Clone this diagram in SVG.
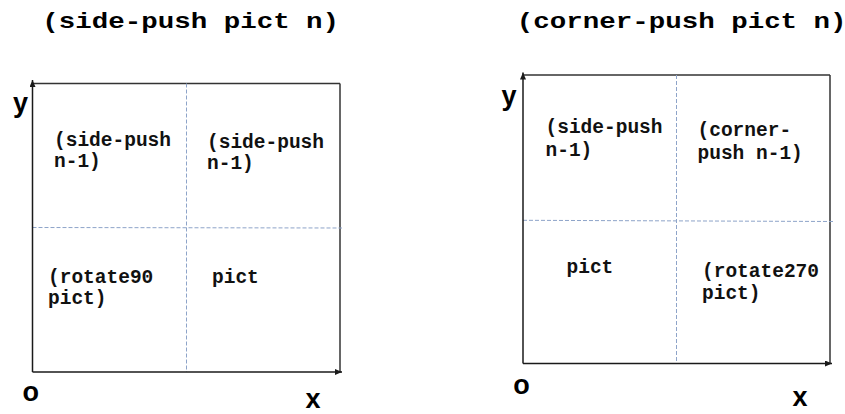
<svg xmlns="http://www.w3.org/2000/svg" width="845" height="414" viewBox="0 0 845 414">
  <style>
    .title { font-family: "Courier New", "Liberation Mono", monospace; font-weight: bold; font-size: 27.5px; fill: #000; }
    .lbl { font-family: "Courier New", "Liberation Mono", monospace; font-weight: bold; font-size: 19.5px; fill: #111; }
    .axis-lbl { font-family: "Liberation Sans", Arial, sans-serif; font-weight: bold; font-size: 27px; fill: #000; }
    .axis { stroke: #1a1a1a; stroke-width: 1.5; fill: none; }
    .border { stroke: #333; stroke-width: 1.5; fill: none; }
    .dash { stroke: #8ea4c9; stroke-width: 1; stroke-dasharray: 4 2; fill: none; }
  </style>
  <defs>
    <marker id="arrow" markerUnits="userSpaceOnUse" markerWidth="8" markerHeight="7" refX="7" refY="3" orient="auto">
      <path d="M0,0 L7,3 L0,6 z" fill="#1a1a1a"/>
    </marker>
  </defs>
  <rect width="845" height="414" fill="#fff"/>

  <!-- titles -->
  <g id="title-left">
    <text class="title" text-anchor="middle" transform="translate(190.7,27.5) scale(1,0.82)">(side-push pict n)</text>
  </g>
  <g id="title-right">
    <text class="title" text-anchor="middle" transform="translate(681.7,27.5) scale(1,0.82)">(corner-push pict n)</text>
  </g>

  <!-- connectors / lines -->
  <g id="connectors">
    <!-- left diagram -->
    <line class="border" x1="32.5" y1="83.5" x2="340" y2="83.5"/>
    <line class="border" x1="340" y1="83.5" x2="340" y2="372"/>
    <line class="dash" x1="186.5" y1="83.5" x2="186.5" y2="372"/>
    <line class="dash" x1="32.5" y1="227.5" x2="342" y2="228"/>
    <line class="axis" x1="32.5" y1="372" x2="32.5" y2="80" marker-end="url(#arrow)"/>
    <line class="axis" x1="32.5" y1="372" x2="342" y2="372" marker-end="url(#arrow)"/>
    <!-- right diagram -->
    <line class="border" x1="523" y1="75" x2="830" y2="75"/>
    <line class="border" x1="830" y1="75" x2="830" y2="363.5"/>
    <line class="dash" x1="676.5" y1="75" x2="676.5" y2="363.5"/>
    <line class="dash" x1="523" y1="220.3" x2="833" y2="221.5"/>
    <line class="axis" x1="523" y1="363.5" x2="523" y2="72.5" marker-end="url(#arrow)"/>
    <line class="axis" x1="523" y1="363.5" x2="832" y2="363.5" marker-end="url(#arrow)"/>
  </g>

  <!-- left diagram labels -->
  <g id="left-axes-labels">
    <text class="axis-lbl" x="20.5" y="112" text-anchor="middle">y</text>
    <text class="axis-lbl" x="30.8" y="400.7" text-anchor="middle">o</text>
    <text class="axis-lbl" x="313" y="407.5" text-anchor="middle">x</text>
  </g>
  <g id="left-top-left">
    <text class="lbl"><tspan x="54" y="145.5">(side-push</tspan><tspan x="54" y="167">n-1)</tspan></text>
  </g>
  <g id="left-top-right">
    <text class="lbl"><tspan x="207" y="147.5">(side-push</tspan><tspan x="207" y="169">n-1)</tspan></text>
  </g>
  <g id="left-bottom-left">
    <text class="lbl"><tspan x="48" y="282.7">(rotate90</tspan><tspan x="48" y="304">pict)</tspan></text>
  </g>
  <g id="left-bottom-right">
    <text class="lbl" x="212" y="282.7">pict</text>
  </g>

  <!-- right diagram labels -->
  <g id="right-axes-labels">
    <text class="axis-lbl" x="509" y="104.5" text-anchor="middle">y</text>
    <text class="axis-lbl" x="521.5" y="394" text-anchor="middle">o</text>
    <text class="axis-lbl" x="800" y="405.7" text-anchor="middle">x</text>
  </g>
  <g id="right-top-left">
    <text class="lbl"><tspan x="545.5" y="133">(side-push</tspan><tspan x="545.5" y="156">n-1)</tspan></text>
  </g>
  <g id="right-top-right">
    <text class="lbl"><tspan x="697.5" y="136">(corner-</tspan><tspan x="697.5" y="159">push n-1)</tspan></text>
  </g>
  <g id="right-bottom-left">
    <text class="lbl" x="566.5" y="273.3">pict</text>
  </g>
  <g id="right-bottom-right">
    <text class="lbl"><tspan x="702" y="276.7">(rotate270</tspan><tspan x="702" y="299.3">pict)</tspan></text>
  </g>
</svg>
